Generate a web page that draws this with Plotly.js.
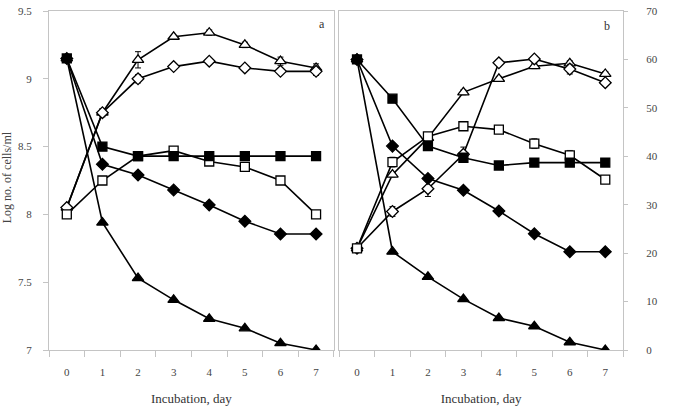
<!DOCTYPE html>
<html>
<head>
<meta charset="utf-8">
<script src="https://cdn.plot.ly/plotly-3.0.1.min.js"></script>
<style>html,body{margin:0;padding:0;background:#fff;}#chart{width:673px;height:411px;}</style>
</head>
<body>
<div id="chart"></div>
<script>
// ---- data ----
var days = [0, 1, 2, 3, 4, 5, 6, 7];
var dayLabels = ['0', '1', '2', '3', '4', '5', '6', '7'];
var boundaries = [-0.5, 0.5, 1.5, 2.5, 3.5, 4.5, 5.5, 6.5, 7.5];

// Panel a (left axis, log no. of cells)
var aOpenTri = [8.05, 8.75, 9.14, 9.31, 9.34, 9.25, 9.13, 9.08];
var aOpenTriErr = [0, 0.03, 0.06, 0.01, 0.02, 0.02, 0.03, 0.03];
var aOpenDia = [8.05, 8.75, 9.00, 9.09, 9.13, 9.08, 9.055, 9.055];
var aOpenDiaErr = [0, 0.02, 0.03, 0.01, 0.01, 0.01, 0.01, 0.03];
var aOpenSq = [8.00, 8.25, 8.43, 8.47, 8.39, 8.35, 8.25, 8.00];
var aOpenSqErr = [0, 0.03, 0.01, 0.01, 0.01, 0.02, 0.01, 0.01];
var aFillTri = [9.15, 7.94, 7.53, 7.37, 7.23, 7.16, 7.05, 7.00];
var aFillDia = [9.15, 8.37, 8.29, 8.18, 8.07, 7.95, 7.855, 7.855];
var aFillSq = [9.15, 8.50, 8.43, 8.43, 8.43, 8.43, 8.43, 8.43];

// Panel b (right axis)
var bOpenTri = [21, 36.2, 43.8, 53.2, 56.0, 58.6, 59.2, 57.0];
var bOpenTriErr = [0, 0.5, 0.5, 0.5, 0.5, 0.5, 0.5, 0.5];
var bOpenDia = [21, 28.6, 33.3, 40.4, 59.3, 60.1, 58.0, 55.2];
var bOpenDiaErr = [0, 1.0, 1.6, 1.5, 0.5, 0.5, 1.0, 0.5];
var bOpenSq = [21, 38.8, 44.1, 46.2, 45.5, 42.6, 40.2, 35.2];
var bOpenSqErr = [0, 1.0, 0.5, 0.5, 0.5, 1.0, 1.0, 0.5];
var bFillTri = [60, 20.3, 15.1, 10.5, 6.6, 4.9, 1.6, 0];
var bFillDia = [60, 42.1, 35.4, 33.0, 28.7, 24.0, 20.3, 20.3];
var bFillSq = [60, 51.9, 42.1, 39.7, 38.1, 38.7, 38.7, 38.7];

// ---- helpers ----
function series(y, err, symbol, filled, xa, ya, size) {
  var t = {
    x: days, y: y, xaxis: xa, yaxis: ya, type: 'scatter', mode: 'lines+markers',
    line: {color: '#000', width: 1.6},
    marker: {symbol: symbol, size: size || 9, color: filled ? '#000' : '#fff',
             line: {color: '#000', width: 1.3}},
    showlegend: false, hoverinfo: 'skip'
  };
  if (err) {
    t.error_y = {type: 'data', array: err, visible: true, color: '#000', thickness: 1, width: 3};
  }
  return t;
}

var data = [
  series(aOpenTri, aOpenTriErr, 'triangle-up', false, 'x', 'y', 10),
  series(aOpenDia, aOpenDiaErr, 'diamond', false, 'x', 'y'),
  series(aOpenSq, aOpenSqErr, 'square', false, 'x', 'y'),
  series(aFillTri, null, 'triangle-up', true, 'x', 'y', 10),
  series(aFillDia, null, 'diamond', true, 'x', 'y'),
  series(aFillSq, null, 'square', true, 'x', 'y'),
  series(bOpenTri, bOpenTriErr, 'triangle-up', false, 'x2', 'y2', 10),
  series(bOpenDia, bOpenDiaErr, 'diamond', false, 'x2', 'y2'),
  series(bOpenSq, bOpenSqErr, 'square', false, 'x2', 'y2'),
  series(bFillTri, null, 'triangle-up', true, 'x2', 'y2', 10),
  series(bFillDia, null, 'diamond', true, 'x2', 'y2'),
  series(bFillSq, null, 'square', true, 'x2', 'y2'),
  // invisible traces to activate boundary-tick axes
  {x: [0], y: [null], xaxis: 'x3', yaxis: 'y', type: 'scatter', mode: 'markers', showlegend: false, hoverinfo: 'skip'},
  {x: [0], y: [null], xaxis: 'x4', yaxis: 'y2', type: 'scatter', mode: 'markers', showlegend: false, hoverinfo: 'skip'}
];

var FONT = 'Liberation Serif, Times New Roman, serif';
var AX = '#c4c4c4';

function labelX(domain, anchor) {
  return {
    domain: domain, anchor: anchor, range: [-0.5, 7.5],
    tickmode: 'array', tickvals: days, ticktext: dayLabels,
    ticks: '', showline: true, linecolor: AX, linewidth: 1, mirror: true,
    showgrid: false, zeroline: false, ticklabelstandoff: 12,
    tickfont: {family: FONT, size: 11, color: '#444'},
    title: {text: 'Incubation, day', font: {family: FONT, size: 13, color: '#333'}, standoff: 16}
  };
}
function tickX(domain, anchor, over) {
  return {
    domain: domain, anchor: anchor, overlaying: over, range: [-0.5, 7.5],
    tickmode: 'array', tickvals: boundaries, ticks: 'outside', ticklen: 6,
    tickcolor: AX, tickwidth: 1, showticklabels: false, showline: false,
    showgrid: false, zeroline: false
  };
}

var layout = {
  width: 673, height: 411,
  margin: {l: 49, r: 50, t: 11, b: 61},
  paper_bgcolor: '#fff', plot_bgcolor: '#fff',
  font: {family: FONT, color: '#333'},
  xaxis: labelX([0, 0.4963], 'y'),
  xaxis2: labelX([0.5057, 1], 'y2'),
  xaxis3: tickX([0, 0.4963], 'y', 'x'),
  xaxis4: tickX([0.5057, 1], 'y2', 'x2'),
  yaxis: {
    domain: [0, 1], anchor: 'x', range: [7, 9.5], dtick: 0.5, tick0: 7,
    ticks: 'outside', ticklen: 5, tickcolor: AX, showline: true, linecolor: AX,
    mirror: true, showgrid: false, zeroline: false, ticklabelstandoff: 9,
    tickfont: {family: FONT, size: 11, color: '#444'}
  },
  yaxis2: {
    domain: [0, 1], anchor: 'x2', side: 'right', range: [0, 70], dtick: 10, tick0: 0,
    ticks: 'outside', ticklen: 4, tickcolor: AX, showline: true, linecolor: AX,
    mirror: true, showgrid: false, zeroline: false, ticklabelstandoff: 16,
    tickfont: {family: FONT, size: 11, color: '#444'}
  },
  annotations: [
    {text: 'a', xref: 'x domain', yref: 'y domain', x: 0.96, y: 0.962, xanchor: 'center', yanchor: 'middle',
     showarrow: false, font: {family: FONT, size: 12, color: '#333'}},
    {text: 'b', xref: 'x2 domain', yref: 'y2 domain', x: 0.945, y: 0.955, xanchor: 'center', yanchor: 'middle',
     showarrow: false, font: {family: FONT, size: 12, color: '#333'}},
    {text: 'Log no. of cells/ml', xref: 'paper', yref: 'paper', x: -0.073, y: 0.51,
     xanchor: 'center', yanchor: 'middle', textangle: -90, showarrow: false,
     font: {family: FONT, size: 12, color: '#444'}}
  ]
};

Plotly.newPlot('chart', data, layout, {displayModeBar: false, staticPlot: true});
</script>
</body>
</html>
